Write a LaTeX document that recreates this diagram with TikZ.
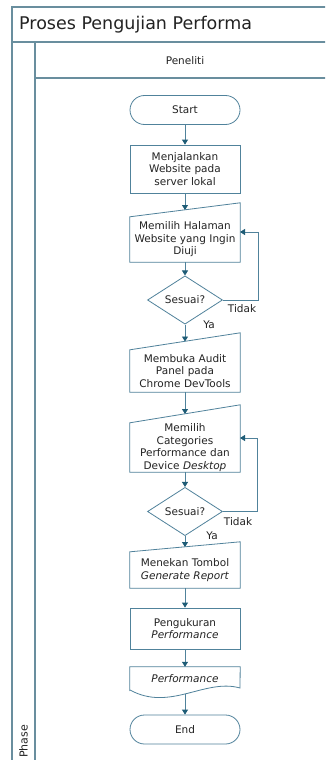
\documentclass[tikz,border=0pt]{standalone}
\usepackage{fontspec}
\setmainfont{DejaVu Sans}
\usetikzlibrary{arrows.meta,calc,shapes.geometric}
\definecolor{ln}{RGB}{80,130,155}
\definecolor{ah}{RGB}{30,92,118}
\definecolor{fr}{RGB}{105,142,158}
\definecolor{tx}{RGB}{35,35,35}
\tikzset{
  txt/.style={font=\fontsize{10.5}{12.5}\selectfont, text=tx},
  term/.style={txt, draw=ln, line width=0.8pt, rectangle, rounded corners=14.5pt, minimum width=110pt, minimum height=29pt, inner sep=0pt},
  procbox/.style={txt, draw=ln, line width=0.8pt, rectangle, minimum width=110pt, inner sep=0pt, align=center, text width=108pt},
  inbox/.style={txt, rectangle, minimum width=110pt, inner sep=0pt, align=center, text width=108pt},
  shapeln/.style={draw=ln, line width=0.8pt},
  dec/.style={txt, draw=ln, line width=0.8pt, diamond, minimum width=75pt, minimum height=40pt, inner sep=0pt},
  arr/.style={draw=ln, line width=0.8pt, -{Triangle[width=6pt,length=5pt,fill=ah,color=ah]}},
  lbl/.style={txt, inner sep=0pt},
  frame/.style={draw=fr, line width=1.2pt}
}
\begin{document}
\begin{tikzpicture}[x=1pt,y=-1pt]
\clip (0,0) rectangle (325,760);
\useasboundingbox (0,0) rectangle (325,760);
\fill[white] (0,0) rectangle (325,760);
% pool frame
\draw[frame] (326,7) -- (12,7) -- (12,761);
\draw[frame] (12,42) -- (326,42);
\draw[frame] (35,42) -- (35,761);
\draw[frame] (35,78) -- (326,78);
\node[anchor=west, inner sep=0pt, font=\fontsize{17.5}{20}\selectfont, text=tx] (title) at (19,25) {Proses Pengujian Performa};
\node[txt, inner sep=0pt] (lane) at (185,61) {Peneliti};
\node[txt, font=\fontsize{11}{13}\selectfont, rotate=90, anchor=west, inner sep=0pt] (phase) at (23.5,758) {Phase};

% nodes
\node[term] (start) at (185,110) {Start};
\node[procbox, minimum height=48pt] (b1) at (185,169) {Menjalankan\\Website pada\\server lokal};
\node[inbox, minimum height=45pt] (b2) at (185,239.5) {Memilih Halaman\\Website yang Ingin\\Diuji};
\draw[shapeln] (b2.south west) -- (b2.north west) -- ($(b2.north east)+(0,-14)$) -- (b2.south east) -- cycle;
\coordinate (b2t) at (185,210);
\node[dec] (d1) at (185,300) {Sesuai?};
\node[inbox, minimum height=42pt] (b3) at (185,371) {Membuka Audit\\Panel pada\\Chrome DevTools};
\draw[shapeln] (b3.south west) -- (b3.north west) -- ($(b3.north east)+(0,-17)$) -- (b3.south east) -- cycle;
\coordinate (b3t) at (185,341.5);
\node[inbox, minimum height=49pt] (b4) at (185,447.5) {Memilih\\Categories\\Performance dan\\Device \textit{Desktop}};
\draw[shapeln] (b4.south west) -- (b4.north west) -- ($(b4.north east)+(0,-18)$) -- (b4.south east) -- cycle;
\coordinate (b4t) at (185,414);
\node[dec] (d2) at (185,511.5) {Sesuai?};
\node[inbox, minimum height=36pt] (b5) at (185,570) {Menekan Tombol\\\textit{Generate Report}};
\draw[shapeln] (b5.south west) -- (b5.north west) -- ($(b5.north east)+(0,-10)$) -- (b5.south east) -- cycle;
\coordinate (b5t) at (185,547);
\node[procbox, minimum height=41pt] (b6) at (185,628.5) {Pengukuran\\\textit{Performance}};
\node[inbox, minimum height=23pt] (doc) at (185,678.5) {\textit{Performance}};
\draw[shapeln] (doc.south west) -- (doc.north west) -- (doc.north east) -- (240,688) .. controls (205,678) and (170,712) .. (130,690) -- cycle;
\coordinate (docb) at (185,694);
\node[term] (end) at (185,729.5) {End};

% connectors
\draw[arr] (start.south) -- (b1.north);
\draw[arr] (b1.south) -- (b2t);
\draw[arr] (b2.south) -- (d1.north);
\draw[arr] (d1.south) -- (b3t);
\draw[arr] (b3.south) -- (b4t);
\draw[arr] (b4.south) -- (d2.north);
\draw[arr] (d2.south) -- (b5t);
\draw[arr] (b5.south) -- (b6.north);
\draw[arr] (b6.south) -- (doc.north);
\draw[arr] (docb) -- (end.north);
\coordinate (l1) at (240,232);
\coordinate (l2) at (240,438);
\draw[arr] (d1.east) -- (258,300) |- (l1);
\draw[arr] (d2.east) -- (257,511.5) |- (l2);

% labels
\node[lbl] (t1) at (242,309) {Tidak};
\node[lbl] (y1) at (209,325) {Ya};
\node[lbl] (t2) at (238,522) {Tidak};
\node[lbl] (y2) at (212,536) {Ya};
\end{tikzpicture}
\end{document}
